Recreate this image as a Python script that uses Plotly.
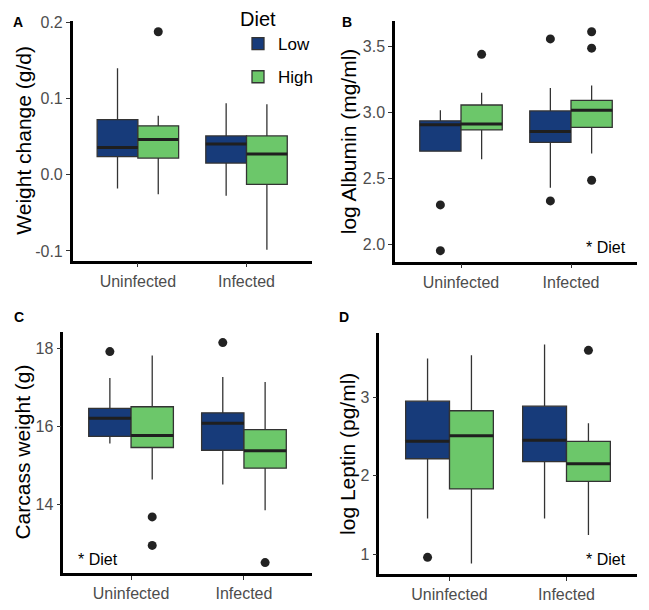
import plotly.graph_objects as go

# ---------------- data ----------------
categories = ["Uninfected", "Infected"]
diets = ["Low", "High"]

# Panel A: Weight change (g/d)
a_low_q1 = [0.024, 0.0155]
a_low_med = [0.036, 0.0404]
a_low_q3 = [0.0726, 0.0511]
a_low_lo = [-0.018, -0.0275]
a_low_hi = [0.140, 0.094]
a_high_q1 = [0.022, -0.0125]
a_high_med = [0.0464, 0.0275]
a_high_q3 = [0.0644, 0.0511]
a_high_lo = [-0.0254, -0.0984]
a_high_hi = [0.0777, 0.0928]
a_out_cat = ["Uninfected"]
a_out_diet = ["High"]
a_out_val = [0.188]

# Panel B: log Albumin (mg/ml)
b_low_q1 = [2.707, 2.774]
b_low_med = [2.908, 2.856]
b_low_q3 = [2.937, 3.012]
b_low_lo = [2.707, 2.429]
b_low_hi = [3.017, 3.186]
b_high_q1 = [2.868, 2.888]
b_high_med = [2.913, 3.017]
b_high_q3 = [3.057, 3.092]
b_high_lo = [2.645, 2.690]
b_high_hi = [3.149, 3.205]
b_out_cat = ["Uninfected", "Uninfected", "Uninfected", "Infected", "Infected", "Infected", "Infected", "Infected"]
b_out_diet = ["Low", "Low", "High", "Low", "Low", "High", "High", "High"]
b_out_val = [2.30, 1.953, 3.441, 3.558, 2.330, 3.612, 3.488, 2.487]

# Panel C: Carcass weight (g)
c_low_q1 = [15.747, 15.39]
c_low_med = [16.21, 16.08]
c_low_q3 = [16.463, 16.35]
c_low_lo = [15.56, 14.51]
c_low_hi = [17.245, 17.27]
c_high_q1 = [15.46, 14.93]
c_high_med = [15.77, 15.38]
c_high_q3 = [16.505, 15.92]
c_high_lo = [14.64, 13.85]
c_high_hi = [17.82, 17.14]
c_out_cat = ["Uninfected", "Uninfected", "Uninfected", "Infected", "Infected"]
c_out_diet = ["Low", "High", "High", "Low", "High"]
c_out_val = [17.92, 13.68, 12.95, 18.15, 12.51]

# Panel D: log Leptin (pg/ml)
d_low_q1 = [2.217, 2.18]
d_low_med = [2.439, 2.452]
d_low_q3 = [2.95, 2.887]
d_low_lo = [1.457, 1.457]
d_low_hi = [3.493, 3.673]
d_high_q1 = [1.833, 1.929]
d_high_med = [2.511, 2.155]
d_high_q3 = [2.828, 2.439]
d_high_lo = [0.883, 1.247]
d_high_hi = [3.535, 2.669]
d_out_cat = ["Uninfected", "Infected"]
d_out_diet = ["Low", "High"]
d_out_val = [0.962, 3.597]

y_titles = ["Weight change (g/d)", "log Albumin (mg/ml)", "Carcass weight (g)", "log Leptin (pg/ml)"]
panel_letters = ["A", "B", "C", "D"]
y_tickvals = [[-0.1, 0.0, 0.1, 0.2], [2.0, 2.5, 3.0, 3.5], [14, 16, 18], [1, 2, 3]]
y_ticktext = [["-0.1", "0.0", "0.1", "0.2"], ["2.0", "2.5", "3.0", "3.5"], ["14", "16", "18"], ["1", "2", "3"]]
y_ranges = [[-0.1127, 0.2023], [1.87, 3.695], [12.23, 18.43], [0.744, 3.813]]
diet_note = [None, "* Diet", "* Diet", "* Diet"]

# ---------------- styling ----------------
W, H = 649, 610
colors = {"Low": "#173B7A", "High": "#6CC76A"}
box_w = 0.375
offsets = {"Low": -box_w / 2, "High": box_w / 2}
FONT = "Liberation Sans, Arial, Helvetica, sans-serif"

# panel pixel boxes: (x0, x1, ytop, ybottom)
px_boxes = [
    (72.7, 311.7, 13, 256),
    (395, 637, 13, 257),
    (63.3, 311.7, 328, 573),
    (379.3, 636.7, 329.7, 574),
]
title_x_px = [24, 348, 23, 348]
letter_pos_px = [(18, 14), (347, 14), (19, 313), (344, 313)]
note_pos_px = [None, (606, 243), (98, 559), (606, 559)]

panels = [
    dict(low=(a_low_q1, a_low_med, a_low_q3, a_low_lo, a_low_hi),
         high=(a_high_q1, a_high_med, a_high_q3, a_high_lo, a_high_hi),
         out=(a_out_cat, a_out_diet, a_out_val)),
    dict(low=(b_low_q1, b_low_med, b_low_q3, b_low_lo, b_low_hi),
         high=(b_high_q1, b_high_med, b_high_q3, b_high_lo, b_high_hi),
         out=(b_out_cat, b_out_diet, b_out_val)),
    dict(low=(c_low_q1, c_low_med, c_low_q3, c_low_lo, c_low_hi),
         high=(c_high_q1, c_high_med, c_high_q3, c_high_lo, c_high_hi),
         out=(c_out_cat, c_out_diet, c_out_val)),
    dict(low=(d_low_q1, d_low_med, d_low_q3, d_low_lo, d_low_hi),
         high=(d_high_q1, d_high_med, d_high_q3, d_high_lo, d_high_hi),
         out=(d_out_cat, d_out_diet, d_out_val)),
]

cat_pos = {c: i + 1 for i, c in enumerate(categories)}

fig = go.Figure()
annotations = []
layout_axes = {}

for i, p in enumerate(panels):
    n = "" if i == 0 else str(i + 1)
    xa, ya = "x" + n, "y" + n
    for diet, key in (("Low", "low"), ("High", "high")):
        q1, med, q3, lo, hi = p[key]
        xs = [cat_pos[c] + offsets[diet] for c in categories]
        fig.add_trace(go.Box(
            x=xs, q1=q1, median=med, q3=q3, lowerfence=lo, upperfence=hi,
            width=box_w, fillcolor=colors[diet],
            line=dict(color="#333333", width=1.3),
            whiskerwidth=0, boxpoints=False,
            name=diet, legendgroup=diet, showlegend=(i == 0),
            xaxis=xa, yaxis=ya, hoverinfo="skip",
        ))
        # thicker median line (ggplot style)
        mx, my = [], []
        for x, m in zip(xs, med):
            mx += [x - box_w / 2, x + box_w / 2, None]
            my += [m, m, None]
        fig.add_trace(go.Scatter(
            x=mx, y=my, mode="lines", line=dict(color="#1f1f1f", width=3),
            showlegend=False, xaxis=xa, yaxis=ya, hoverinfo="skip",
        ))
    oc, od, ov = p["out"]
    fig.add_trace(go.Scatter(
        x=[cat_pos[c] + offsets[d] for c, d in zip(oc, od)], y=ov,
        mode="markers", marker=dict(color="#222222", size=9),
        showlegend=False, xaxis=xa, yaxis=ya, hoverinfo="skip",
    ))

    x0, x1, yt, yb = px_boxes[i]
    layout_axes["xaxis" + n] = dict(
        domain=[x0 / W, x1 / W], anchor=ya, range=[0.4, 2.6],
        tickvals=[cat_pos[c] for c in categories], ticktext=categories,
        showline=True, linecolor="black", linewidth=2.5,
        ticks="outside", ticklen=4, tickwidth=1.3, tickcolor="#333333",
        tickfont=dict(size=16, color="#4d4d4d", family=FONT),
        showgrid=False, zeroline=False, fixedrange=True,
    )
    layout_axes["yaxis" + n] = dict(
        domain=[1 - yb / H, 1 - yt / H], anchor=xa, range=y_ranges[i],
        tickvals=y_tickvals[i], ticktext=y_ticktext[i],
        showline=True, linecolor="black", linewidth=2.5,
        ticks="outside", ticklen=4, tickwidth=1.3, tickcolor="#333333",
        tickfont=dict(size=16, color="#4d4d4d", family=FONT),
        showgrid=False, zeroline=False, fixedrange=True,
    )
    annotations.append(dict(
        text=y_titles[i], textangle=-90, xref="paper", yref="paper",
        x=title_x_px[i] / W, y=1 - (yt + yb) / 2 / H,
        xanchor="center", yanchor="middle", showarrow=False,
        font=dict(size=21, color="black", family=FONT),
    ))
    lx, ly = letter_pos_px[i]
    annotations.append(dict(
        text="<b>%s</b>" % panel_letters[i], xref="paper", yref="paper",
        x=lx / W, y=1 - ly / H, xanchor="center", yanchor="middle",
        showarrow=False, font=dict(size=14, color="black", family=FONT),
    ))
    if diet_note[i]:
        nx, ny = note_pos_px[i]
        annotations.append(dict(
            text=diet_note[i], xref="paper", yref="paper",
            x=nx / W, y=1 - ny / H, xanchor="center", yanchor="middle",
            showarrow=False, font=dict(size=16, color="black", family=FONT),
        ))

fig.update_layout(
    width=W, height=H, margin=dict(l=0, r=0, t=0, b=0),
    paper_bgcolor="white", plot_bgcolor="white",
    font=dict(family=FONT),
    showlegend=True,
    legend=dict(
        title=dict(text="Diet", font=dict(size=20, color="black", family=FONT)),
        font=dict(size=17, color="black", family=FONT),
        x=238 / W, y=1 + 8 / H, xanchor="left", yanchor="top",
        bgcolor="rgba(0,0,0,0)", tracegroupgap=8,
    ),
    annotations=annotations,
    **layout_axes,
)

fig.write_html(
    "out.html",
    config={"displayModeBar": False},
    post_script="document.body.style.margin='0';document.body.style.padding='0';",
)
